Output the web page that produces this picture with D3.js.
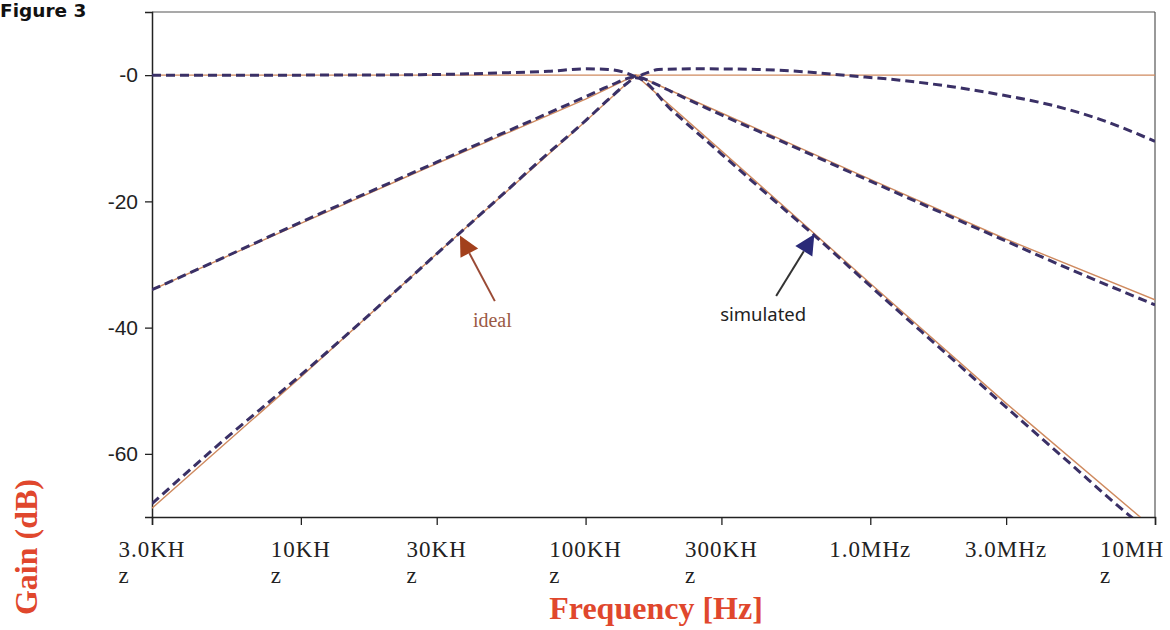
<!DOCTYPE html>
<html>
<head>
<meta charset="utf-8">
<script src="https://cdn.jsdelivr.net/npm/d3@7"></script>
<style>
  body { margin: 0; background: #fff; }
  svg { display: block; }
</style>
</head>
<body>
<div class="chart"></div>
<script>
// frequency response of the three band-pass filters (Hz, dB)
const simFlatFreq = [3e3, 1e4, 3e4, 5e4, 7.4e4, 1e5, 1.2e5, 1.4e5, 1.5e5, 1.65e5, 1.8e5, 2.5e5, 4e5, 6e5, 8.5e5, 1.27e6, 1.91e6, 2.86e6, 4.28e6, 6.41e6, 1e7];
const simFlatGain = [0, 0, 0.1, 0.35, 0.6, 1.0, 0.9, 0.3, -0.2, 0.4, 0.9, 1.0, 0.9, 0.5, -0.1, -0.8, -1.8, -3.1, -4.7, -7.0, -10.5];

const sim20Freq = [3e3, 5e3, 1e4, 2e4, 3e4, 5e4, 7e4, 1e5, 1.2e5, 1.5e5, 1.8e5, 2e5, 3e5, 5e5, 1e6, 2e6, 3e6, 5e6, 1e7];
const sim20Gain = [-34, -29.5, -23.3, -17.3, -13.8, -9.4, -6.5, -3.4, -1.8, -0.3, -1.6, -2.6, -6.3, -10.7, -16.8, -22.8, -26.3, -30.7, -36.4];

const sim40Freq = [3e3, 5e3, 1e4, 2e4, 3e4, 5e4, 7e4, 1e5, 1.2e5, 1.4e5, 1.5e5, 2e5, 3e5, 5e5, 6.4e5, 1e6, 2e6, 3e6, 5e6, 8e6, 1e7];
const sim40Gain = [-67.9, -59, -47.5, -35.5, -28.3, -19.3, -13.3, -7.2, -3.9, -1.3, -0.4, -5.5, -12.5, -21.3, -25.5, -33.4, -45.5, -52.6, -61.4, -69.5, -73];

const idealFlatFreq = [3e3, 1.5e5, 1e7];
const idealFlatGain = [0, 0, 0];
const ideal20Freq = [3e3, 1e4, 3e4, 1e5, 1.5e5, 3e5, 1e6, 3e6, 1e7];
const ideal20Gain = [-34, -23.5, -14, -3.8, 0, -6, -16.5, -26, -35.6];
const ideal40Freq = [3e3, 1e4, 3e4, 1e5, 1.5e5, 3e5, 1e6, 3e6, 1e7];
const ideal40Gain = [-68.6, -47.8, -28.3, -7.3, 0, -12, -33, -52, -72];

const xTicks = [3e3, 1e4, 3e4, 1e5, 3e5, 1e6, 3e6, 1e7];
const xTickLabels = [['3.0KH', 'z'], ['10KH', 'z'], ['30KH', 'z'], ['100KH', 'z'], ['300KH', 'z'], ['1.0MHz'], ['3.0MHz'], ['10MH', 'z']];
const yTicks = [0, -20, -40, -60];
const yTickLabels = ['-0', '-20', '-40', '-60'];

const W = 1170, H = 630;
const margin = {left: 152, top: 12, right: 15, bottom: 113};

const svg = d3.select('.chart').append('svg').attr('width', W).attr('height', H);

const x = d3.scaleLog().domain([3e3, 1e7]).range([margin.left, W - margin.right]);
const y = d3.scaleLinear().domain([-70, 10]).range([H - margin.bottom, margin.top]);

svg.append('defs').append('clipPath').attr('id', 'plot')
  .append('rect')
  .attr('x', x.range()[0]).attr('y', y.range()[1])
  .attr('width', x.range()[1] - x.range()[0])
  .attr('height', y.range()[0] - y.range()[1]);

// frame
svg.append('line')
  .attr('x1', x.range()[0]).attr('x2', x.range()[1])
  .attr('y1', y(10)).attr('y2', y(10))
  .attr('stroke', '#555').attr('stroke-width', 1.2);
svg.append('line')
  .attr('x1', x.range()[1]).attr('x2', x.range()[1])
  .attr('y1', y(10)).attr('y2', y(-70))
  .attr('stroke', '#555').attr('stroke-width', 1.2);

// y axis
const yAxis = svg.append('g')
  .attr('transform', 'translate(' + margin.left + ',0)')
  .call(d3.axisLeft(y).tickValues(yTicks).tickSize(7).tickFormat((d, i) => yTickLabels[i]));
yAxis.select('.domain').attr('stroke', '#222').attr('stroke-width', 1.5);
yAxis.selectAll('.tick line').attr('stroke', '#222').attr('stroke-width', 1.3);
yAxis.selectAll('text')
  .attr('font-family', 'Liberation Sans, Arial, sans-serif')
  .attr('font-size', 21).attr('fill', '#222').attr('x', -14);

// x axis
const xAxis = svg.append('g')
  .attr('transform', 'translate(0,' + y(-70) + ')')
  .call(d3.axisBottom(x).tickValues(xTicks).tickSize(8).tickFormat(''));
xAxis.select('.domain').attr('stroke', '#222').attr('stroke-width', 1.5);
xAxis.selectAll('.tick line').attr('stroke', '#222').attr('stroke-width', 1.3);

const xl = svg.append('g')
  .attr('font-family', 'Liberation Serif, Times New Roman, serif')
  .attr('font-size', 23).attr('fill', '#222').attr('letter-spacing', 1);
xTicks.forEach((t, i) => {
  const first = xl.append('text')
    .attr('y', 557)
    .text(xTickLabels[i][0]);
  const w = first.node().getComputedTextLength();
  const left = Math.min(x(t) - w / 2, W - 6 - w);
  first.attr('x', left);
  if (xTickLabels[i].length > 1) {
    xl.append('text')
      .attr('x', left).attr('y', 583)
      .text(xTickLabels[i][1]);
  }
});

// curves
const line = d3.line()
  .x(d => x(d[0])).y(d => y(d[1]))
  .curve(d3.curveMonotoneX);
const plot = svg.append('g').attr('clip-path', 'url(#plot)');

const ideal = [[idealFlatFreq, idealFlatGain], [ideal20Freq, ideal20Gain], [ideal40Freq, ideal40Gain]];
const sim = [[simFlatFreq, simFlatGain], [sim20Freq, sim20Gain], [sim40Freq, sim40Gain]];

ideal.forEach(s => {
  plot.append('path')
    .attr('d', d3.line().x(d => x(d[0])).y(d => y(d[1]))(d3.zip(s[0], s[1])))
    .attr('fill', 'none')
    .attr('stroke', '#cf8a5f')
    .attr('stroke-width', 1.4);
});
sim.forEach(s => {
  plot.append('path')
    .attr('d', line(d3.zip(s[0], s[1])))
    .attr('fill', 'none')
    .attr('stroke', '#3a3066')
    .attr('stroke-width', 3)
    .attr('stroke-dasharray', '9,5');
});

// annotations
const arrow = (tail, tip, lineColor, headColor) => {
  const x1 = x(tail[0]), y1 = y(tail[1]), x2 = x(tip[0]), y2 = y(tip[1]);
  const a = Math.atan2(y2 - y1, x2 - x1);
  const len = 20, half = 10;
  const bx = x2 - len * Math.cos(a), by = y2 - len * Math.sin(a);
  svg.append('line')
    .attr('x1', x1).attr('y1', y1).attr('x2', bx).attr('y2', by)
    .attr('stroke', lineColor).attr('stroke-width', 2);
  svg.append('polygon')
    .attr('points', [
      [x2, y2],
      [bx + half * Math.sin(a), by - half * Math.cos(a)],
      [bx - half * Math.sin(a), by + half * Math.cos(a)]
    ].map(p => p.join(',')).join(' '))
    .attr('fill', headColor);
};
arrow([4.8e4, -35.8], [3.62e4, -25.4], '#9a4a35', '#a2401c');
arrow([4.67e5, -35.0], [6.36e5, -25.2], '#333', '#2a2a78');

svg.append('text')
  .attr('x', x(4.02e4)).attr('y', y(-39.9))
  .attr('font-family', 'Liberation Serif, Times New Roman, serif')
  .attr('font-size', 20).attr('fill', '#9b5a45')
  .text('ideal');
svg.append('text')
  .attr('x', x(2.97e5)).attr('y', y(-38.9))
  .attr('font-family', 'Noto Sans, sans-serif')
  .attr('font-size', 18.5).attr('fill', '#222')
  .text('simulated');

// titles
svg.append('text')
  .attr('x', 0).attr('y', 17)
  .attr('font-family', 'DejaVu Sans, sans-serif')
  .attr('font-weight', 'bold').attr('font-size', 18.5).attr('fill', '#111')
  .text('Figure 3');
svg.append('text')
  .attr('x', 656).attr('y', 619)
  .attr('text-anchor', 'middle')
  .attr('font-family', 'Liberation Serif, Times New Roman, serif')
  .attr('font-weight', 'bold').attr('font-size', 32).attr('fill', '#e0472d')
  .text('Frequency [Hz]');
svg.append('text')
  .attr('transform', 'translate(37,547) rotate(-90)')
  .attr('text-anchor', 'middle')
  .attr('font-family', 'Liberation Serif, Times New Roman, serif')
  .attr('font-weight', 'bold').attr('font-size', 32).attr('fill', '#e0472d')
  .text('Gain (dB)');
</script>
</body>
</html>
